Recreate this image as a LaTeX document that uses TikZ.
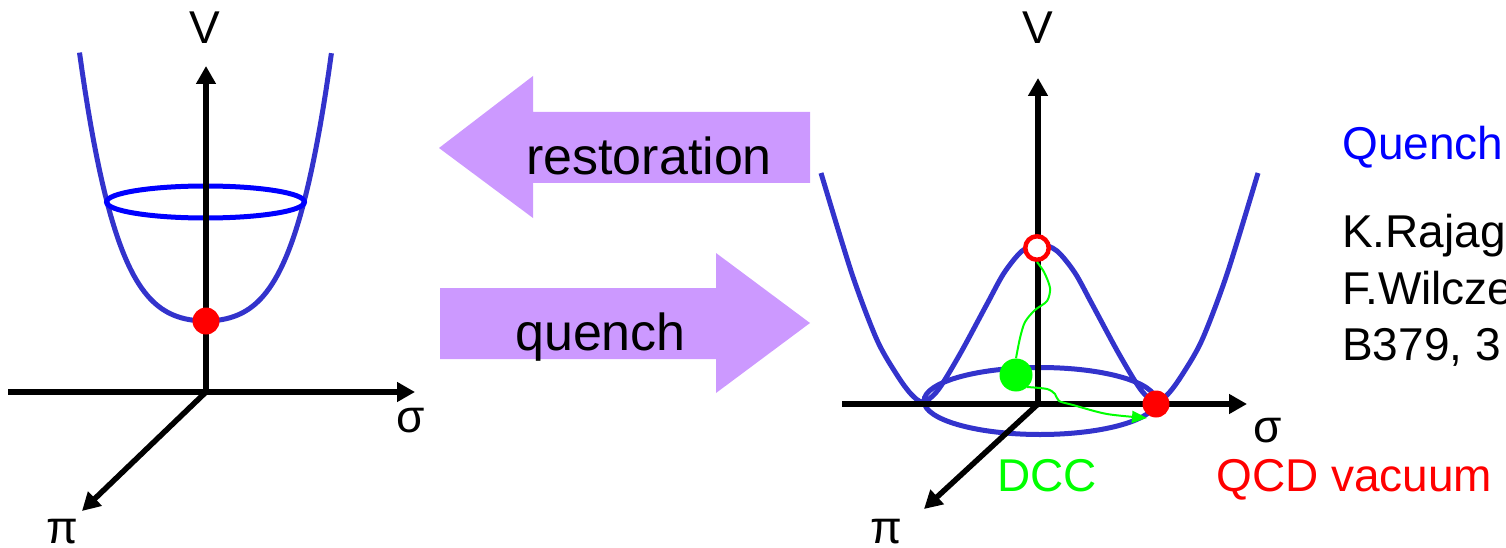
\documentclass[tikz,border=0pt]{standalone}
\usepackage{fontspec}
\setmainfont{Liberation Sans}
\usetikzlibrary{arrows.meta}
\definecolor{curveblue}{HTML}{3333CC}
\definecolor{ringblue}{HTML}{0000FF}
\definecolor{arrowpurple}{HTML}{CC99FF}
\definecolor{dccgreen}{HTML}{00FF00}
\definecolor{vacred}{HTML}{FF0000}
\begin{document}
\begin{tikzpicture}[x=1pt,y=-1pt,
  axisline/.style={line width=5.5pt,-{Triangle[length=18pt,width=19pt]}},
  well/.style={curveblue,line width=5pt},
  lbl/.style={font=\fontsize{46}{55}\selectfont,inner sep=0pt,anchor=base},
  bigtxt/.style={font=\fontsize{52}{62}\selectfont,inner sep=0pt,anchor=base west},
  reftxt/.style={font=\fontsize{46}{57}\selectfont,inner sep=0pt,anchor=base west},
  blockarrow/.style={fill=arrowpurple,draw=none},
  dot/.style={circle,inner sep=0pt,minimum size=#1},
  path/.style={dccgreen,line width=2pt}
]
\useasboundingbox (0,0) rectangle (1506,548);

% ---------- left panel ----------
\coordinate (Lo) at (206,392);
\coordinate (Lxl) at (8,392);
\coordinate (Lxr) at (415,392);
\coordinate (Lv) at (206,66);
\coordinate (Lp) at (82,511);
\draw[well] plot[domain=-1.26:1.26,samples=90] ({205.5+100*\x},{321-50*\x*\x-75*\x*\x*\x*\x});
\draw[ringblue,line width=5pt] (205.5,202) ellipse [x radius=99, y radius=16];
\draw[axisline] (Lxl) -- (Lxr);
\draw[axisline] (Lo) -- (Lv);
\draw[axisline] (Lo) -- (Lp);
\node[dot=27pt,fill=vacred] (Lmin) at (206,321) {};
\node[lbl] (LV) at (205,44) {V};
\node[lbl] (Ls) at (411,432) {σ};
\node[lbl] (Lpi) at (62,543) {π};

% ---------- block arrows ----------
\fill[blockarrow] (439,148) -- (533,76) -- (533,112) -- (810,112) -- (810,183) -- (533,183) -- (533,218) -- cycle;
\node[bigtxt] (rest) at (526,175) {restoration};
\fill[blockarrow] (440,288) -- (716,288) -- (716,253) -- (810,323) -- (716,393) -- (716,359) -- (440,359) -- cycle;
\node[bigtxt] (quen) at (515,350) {quench};

% ---------- right panel ----------
\coordinate (Ro) at (1038,404);
\coordinate (Rxl) at (842,404);
\coordinate (Rxr) at (1247,404);
\coordinate (Rv) at (1038,78);
\coordinate (Rp) at (924,509);
\draw[well] plot[smooth,tension=0.5] coordinates {(821,173) (852,274) (877,340) (897,375) (911,394) (923,402) (938,390) (960,354) (987,304) (1004,273) (1022,251) (1039.5,244) (1057,251) (1075,273) (1092,304) (1119,354) (1141,390) (1156,402) (1168,394) (1182,375) (1202,340) (1227,274) (1258,173)};
\draw[curveblue,line width=5pt] (1040,401) ellipse [x radius=116, y radius=33.5];
\draw[axisline] (Rxl) -- (Rxr);
\draw[axisline] (Ro) -- (Rv);
\draw[axisline] (Ro) -- (Rp);
\node[dot=23.5pt,draw=vacred,fill=white,line width=4.5pt] (top) at (1037,248) {};
\node[dot=33pt,fill=dccgreen] (dcc) at (1016,375) {};
\node[dot=27pt,fill=vacred] (vac) at (1156,404) {};
\draw[path] plot[smooth] coordinates {(top.south) (1044,272) (1050,288) (1047,301) (1035,310) (1025,322) (1020,338) (dcc.north)};
\draw[path,-{Triangle[length=15pt,width=12pt]}] plot[smooth] coordinates {(1027,387) (1047,389) (1055,394) (1059,401) (1073,405) (1107,414) (1147,418)};
\node[lbl] (RV) at (1038,44) {V};
\node[lbl] (Rs) at (1268,442) {σ};
\node[lbl] (Rpi) at (886,543) {π};
\node[lbl,anchor=base west,text=dccgreen] (dccl) at (997,491) {DCC};
\node[lbl,anchor=base west,text=vacred] (vacl) at (1216,491) {QCD vacuum};

% ---------- reference text ----------
\node[reftxt,text=ringblue] (qt) at (1342,160) {Quench};
\node[reftxt] (r1) at (1342,247) {K.Rajag};
\node[reftxt] (r2) at (1342,304) {F.Wilcze};
\node[reftxt] (r3) at (1342,360) {B379, 3};
\end{tikzpicture}
\end{document}
